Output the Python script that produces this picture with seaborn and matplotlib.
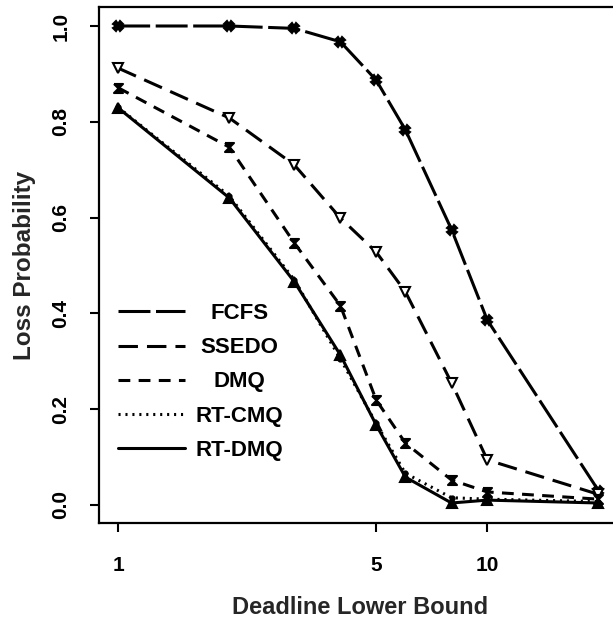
import numpy as np
import pandas as pd
import matplotlib
matplotlib.use("Agg")
import matplotlib.pyplot as plt
from matplotlib.lines import Line2D
from matplotlib.ticker import FixedLocator, FixedFormatter, NullLocator
import seaborn as sns

# Loss probability versus the lower bound of the deadline distribution
deadline = [1, 2, 3, 4, 5, 6, 8, 10, 20]
fcfs   = [1.000, 1.000, 0.995, 0.967, 0.887, 0.783, 0.575, 0.386, 0.030]
ssedo  = [0.912, 0.808, 0.710, 0.599, 0.528, 0.445, 0.255, 0.094, 0.022]
dmq    = [0.871, 0.747, 0.547, 0.416, 0.219, 0.129, 0.052, 0.027, 0.012]
rt_cmq = [0.830, 0.645, 0.470, 0.305, 0.170, 0.066, 0.015, 0.012, 0.007]
rt_dmq = [0.829, 0.641, 0.466, 0.313, 0.167, 0.058, 0.004, 0.010, 0.004]
series_names = ["FCFS", "SSEDO", "DMQ", "RT-CMQ", "RT-DMQ"]
x_ticks = [1, 5, 10]
x_tick_labels = ["1", "5", "10"]
y_ticks = [0.0, 0.2, 0.4, 0.6, 0.8, 1.0]
y_tick_labels = ["0.0", "0.2", "0.4", "0.6", "0.8", "1.0"]

frames = []
for name, vals in zip(series_names, [fcfs, ssedo, dmq, rt_cmq, rt_dmq]):
    frames.append(pd.DataFrame({"deadline": deadline, "loss": vals, "policy": name}))
df = pd.concat(frames, ignore_index=True)

sns.set_style("ticks")
plt.rcParams.update({
    "font.family": ["Liberation Sans", "DejaVu Sans"],
    "font.weight": "bold",
    "axes.labelweight": "bold",
    "lines.scale_dashes": False,
})

hourglass = [(-1, 1), (1, 1), (-1, -1), (1, -1), (-1, 1)]
styles = {
    "FCFS":   dict(linestyle=(0, (23, 4)),    marker="X", markersize=7, mfc="black"),
    "SSEDO":  dict(linestyle=(0, (14, 6.5)),  marker="v", markersize=7, mfc="white"),
    "DMQ":    dict(linestyle=(0, (8.5, 6)),   marker=hourglass, markersize=6.5, mfc="black"),
    "RT-CMQ": dict(linestyle=(0, (1.5, 3.5)), marker="o", markersize=3, mfc="black"),
    "RT-DMQ": dict(linestyle="-",             marker="^", markersize=7, mfc="black"),
}

fig = plt.figure(figsize=(6.13, 6.22), dpi=100)
ax = fig.add_axes([0.1615, 0.159, 0.846, 0.830])
ax.set_xscale("log")

for name in series_names:
    st = styles[name]
    sns.lineplot(data=df[df["policy"] == name], x="deadline", y="loss", ax=ax,
                 color="black", linewidth=2.2, linestyle=st["linestyle"],
                 marker=st["marker"], markersize=st["markersize"],
                 markerfacecolor=st["mfc"], markeredgecolor="black",
                 markeredgewidth=1.5, errorbar=None, legend=False)

ax.set_xlim(10 ** -0.052, 10 ** 1.353)
ax.set_ylim(-0.038, 1.04)

ax.xaxis.set_major_locator(FixedLocator(x_ticks))
ax.xaxis.set_major_formatter(FixedFormatter(x_tick_labels))
ax.xaxis.set_minor_locator(NullLocator())
ax.yaxis.set_major_locator(FixedLocator(y_ticks))
ax.yaxis.set_major_formatter(FixedFormatter(y_tick_labels))

ax.tick_params(axis="both", direction="out", length=6.5, width=1.5,
               labelsize=15, color="black", labelcolor="black")
ax.tick_params(axis="x", pad=17)
ax.tick_params(axis="y", pad=14, labelrotation=90)
for lab in ax.get_yticklabels():
    lab.set_va("center")

for sp in ax.spines.values():
    sp.set_visible(True)
    sp.set_linewidth(1.6)
    sp.set_color("black")

ax.set_xlabel("Deadline Lower Bound", fontsize=17, fontweight="bold", va="center")
ax.set_ylabel("Loss Probability", fontsize=17.5, fontweight="bold", va="center")
ax.xaxis.set_label_coords(0.503, -0.163)
ax.yaxis.set_label_coords(-0.1445, 0.5)

handles = [Line2D([], [], color="black", linewidth=2.2, linestyle=styles[n]["linestyle"])
           for n in series_names]
leg = ax.legend(handles, series_names, loc="upper left",
                bbox_to_anchor=(0.0366, 0.426), frameon=False,
                fontsize=16, handlelength=3.0, handletextpad=0.5,
                labelspacing=0.59, borderpad=0, borderaxespad=0)

# Centre the legend labels on the widest entry
fig.canvas.draw()
renderer = fig.canvas.get_renderer()
texts = leg.get_texts()
boxes = [t.get_window_extent(renderer) for t in texts]
x_left = min(b.x0 for b in boxes)
x_center = x_left + max(b.width for b in boxes) / 2
inv = fig.transFigure.inverted()
placed = []
for t in texts:
    _, y_base = t.get_transform().transform(t.get_position())
    placed.append((t.get_text(), inv.transform((x_center, y_base))))
for t in texts:
    t.set_text("")
for label, (fx, fy) in placed:
    fig.text(fx, fy, label, ha="center", va="baseline",
             fontsize=16, fontweight="bold", color="black")

fig.savefig("out.png", dpi=100)
